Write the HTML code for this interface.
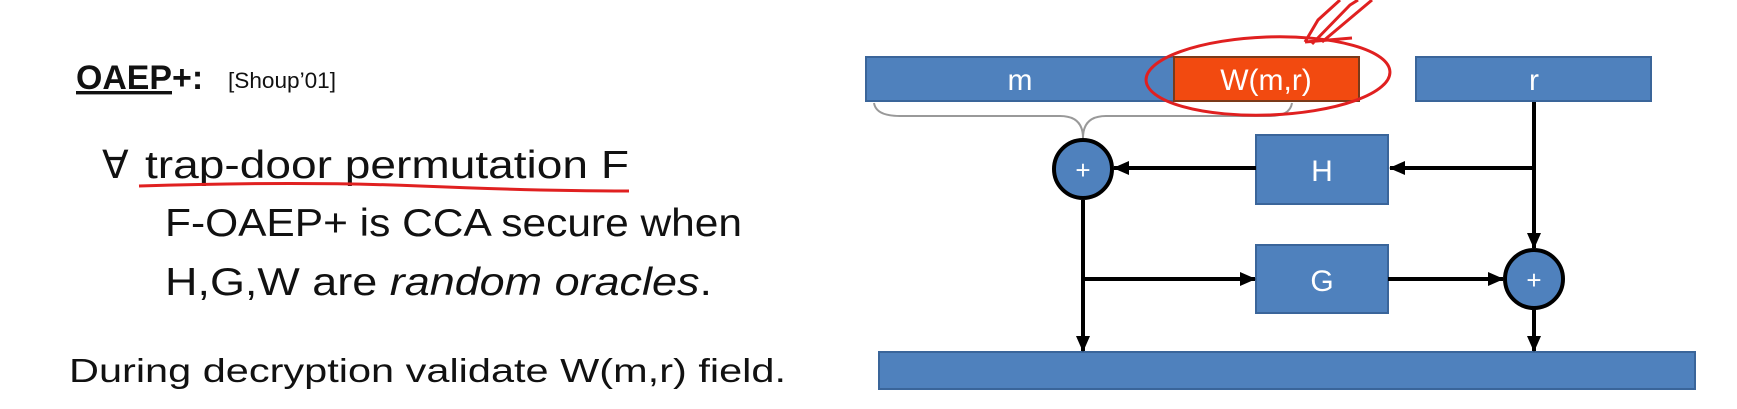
<!DOCTYPE html>
<html><head><meta charset="utf-8"><style>html,body{margin:0;padding:0;background:#fff}svg{display:block}</style></head>
<body>
<svg width="1737" height="409" viewBox="0 0 1737 409" xmlns="http://www.w3.org/2000/svg">
<defs><marker id="ah" markerWidth="16" markerHeight="14" refX="15" refY="7" orient="auto" markerUnits="userSpaceOnUse"><path d="M0,0 L16,7 L0,14 z" fill="#000"/></marker></defs>
<g font-family="'Liberation Sans', sans-serif" fill="#111">
<text x="76" y="89" font-size="34" font-weight="bold" text-decoration="underline" textLength="96" lengthAdjust="spacingAndGlyphs">OAEP</text>
<text x="172" y="89" font-size="34" font-weight="bold">+:</text>
<text x="228" y="88" font-size="22" textLength="108" lengthAdjust="spacingAndGlyphs">[Shoup’01]</text>
<text x="102" y="178" font-size="39"><tspan>∀</tspan><tspan x="145" textLength="484" lengthAdjust="spacingAndGlyphs">trap-door permutation F</tspan></text>
<text x="165" y="236" font-size="39" textLength="577" lengthAdjust="spacingAndGlyphs">F-OAEP+ is CCA secure when</text>
<text x="165" y="295" font-size="39" textLength="547" lengthAdjust="spacingAndGlyphs">H,G,W  are <tspan font-style="italic">random oracles</tspan>.</text>
<text x="69" y="382" font-size="33" textLength="717" lengthAdjust="spacingAndGlyphs">During decryption validate  W(m,r) field.</text>
</g>
<path d="M139,186 Q300,181 420,186 T629,191" stroke="#e02020" stroke-width="3" fill="none"/>
<g font-family="'Liberation Sans', sans-serif" font-size="30" fill="#fff" text-anchor="middle">
<rect x="866" y="57" width="308" height="44" fill="#4f81bd" stroke="#3a659a" stroke-width="2"/>
<text x="1020" y="90" fill="#fff">m</text>
<rect x="1174" y="57" width="185" height="44" fill="#f24a10" stroke="#7a3a1a" stroke-width="2"/>
<text x="1266" y="90" fill="#fff">W(m,r)</text>
<rect x="1416" y="57" width="235" height="44" fill="#4f81bd" stroke="#3a659a" stroke-width="2"/>
<text x="1534" y="90" fill="#fff">r</text>
<path d="M874,103 Q876,116 900,116 L1060,116 Q1083,116 1083,138 Q1083,116 1106,116 L1270,116 Q1290,116 1292,103" stroke="#999" stroke-width="2" fill="none"/>
<rect x="1256" y="135" width="132" height="69" fill="#4f81bd" stroke="#3a659a" stroke-width="2"/>
<text x="1322" y="181" fill="#fff">H</text>
<rect x="1256" y="245" width="132" height="68" fill="#4f81bd" stroke="#3a659a" stroke-width="2"/>
<text x="1322" y="291" fill="#fff">G</text>
<rect x="879" y="352" width="816" height="37" fill="#4f81bd" stroke="#3a659a" stroke-width="2"/>
<g stroke="#000" stroke-width="4" fill="none">
<line x1="1534" y1="102" x2="1534" y2="248" marker-end="url(#ah)"/>
<line x1="1534" y1="168" x2="1390" y2="168" marker-end="url(#ah)"/>
<line x1="1256" y1="168" x2="1114" y2="168" marker-end="url(#ah)"/>
<line x1="1083" y1="200" x2="1083" y2="351" marker-end="url(#ah)"/>
<line x1="1083" y1="279" x2="1255" y2="279" marker-end="url(#ah)"/>
<line x1="1388" y1="279" x2="1503" y2="279" marker-end="url(#ah)"/>
<line x1="1534" y1="309" x2="1534" y2="351" marker-end="url(#ah)"/>
</g>
<circle cx="1083" cy="169" r="29" fill="#4f81bd" stroke="#000" stroke-width="4"/>
<text x="1083" y="179" font-size="26" fill="#fff">+</text>
<circle cx="1534" cy="279" r="29" fill="#4f81bd" stroke="#000" stroke-width="4"/>
<text x="1534" y="289" font-size="26" fill="#fff">+</text>
</g>
<g stroke="#e02020" stroke-width="3" fill="none">
<ellipse cx="1268" cy="76" rx="122" ry="39" transform="rotate(-2 1268 76)"/>
<path d="M1305,42 L1318,20 L1340,0 M1312,44 L1350,5 L1358,0 M1322,42 L1372,0 M1305,42 L1352,38"/>
</g>
</svg>
</body></html>
